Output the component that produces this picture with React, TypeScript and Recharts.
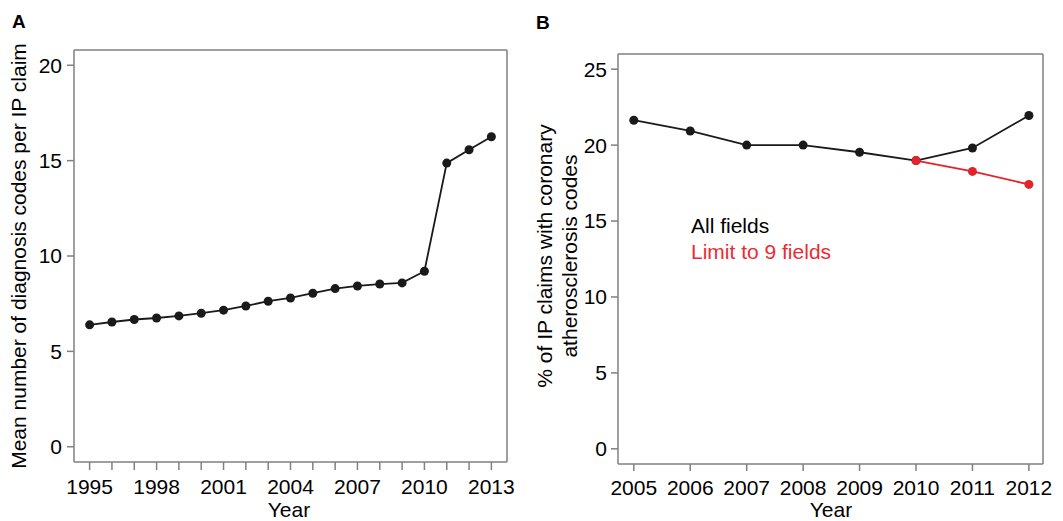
import { LineChart, Line, XAxis, YAxis, ReferenceLine } from 'recharts';

// Panel A: mean number of diagnosis codes per IP claim
const yearsA = [1995, 1996, 1997, 1998, 1999, 2000, 2001, 2002, 2003, 2004, 2005, 2006, 2007, 2008, 2009, 2010, 2011, 2012, 2013];
const meanCodes = [6.39, 6.54, 6.67, 6.75, 6.86, 7.0, 7.16, 7.38, 7.63, 7.8, 8.05, 8.29, 8.43, 8.53, 8.59, 9.2, 14.87, 15.57, 16.25];
const yTicksA = [0, 5, 10, 15, 20];

// Panel B: % of IP claims with coronary atherosclerosis codes
const yearsB = [2005, 2006, 2007, 2008, 2009, 2010, 2011, 2012];
const allFields = [21.64, 20.93, 20.0, 20.0, 19.53, 18.98, 19.81, 21.95];
const limit9 = [null, null, null, null, null, 18.98, 18.27, 17.41];
const yTicksB = [0, 5, 10, 15, 20, 25];

const dataA = yearsA.map((year, i) => ({ year, value: meanCodes[i] }));
const dataB = yearsB.map((year, i) => ({ year, all: allFields[i], limit: limit9[i] }));

// axis ranges (a little padding round the data, as in the original frame)
const xDomA: [number, number] = [1994.3, 2013.7];
const yDomA: [number, number] = [-0.8, 20.8];
const xDomB: [number, number] = [2004.72, 2012.25];
const yDomB: [number, number] = [-1, 26];

const AXIS = '#808080';
const INK = '#1a1a1a';
const RED = '#e4222b';
const FS = 21;
const tickStyle = { fill: '#000', fontSize: FS };

const abs = (left: number, top: number) => ({ position: 'absolute' as const, left, top });

function VLabel({ x, y, children }: { x: number; y: number; children: React.ReactNode }) {
    return (
        <div
            style={{
                ...abs(x, y),
                transform: 'translate(-50%, -50%) rotate(-90deg)',
                whiteSpace: 'nowrap',
                fontSize: FS,
                lineHeight: '25px',
                textAlign: 'center',
            }}
        >
            {children}
        </div>
    );
}

export default function App() {
    return (
        <div
            style={{
                position: 'absolute',
                left: 0,
                top: 0,
                width: 1063,
                height: 521,
                background: '#fff',
                fontFamily: '"Liberation Sans", Arial, sans-serif',
                color: '#000',
            }}
        >
            <div style={{ ...abs(0, 0) }}>
                <LineChart width={530} height={521} data={dataA} margin={{ top: 50, right: 23, left: 0, bottom: 0 }}>
                    <XAxis
                        dataKey="year"
                        type="number"
                        domain={xDomA}
                        allowDataOverflow
                        ticks={yearsA}
                        interval={0}
                        tickFormatter={(v: number) => ((v - 1995) % 3 === 0 ? String(v) : '')}
                        height={59}
                        tickSize={8}
                        tickMargin={9}
                        stroke={AXIS}
                        strokeWidth={1.5}
                        tick={tickStyle}
                    />
                    <YAxis
                        type="number"
                        domain={yDomA}
                        allowDataOverflow
                        ticks={yTicksA}
                        interval={0}
                        width={74}
                        tickSize={7}
                        tickMargin={5}
                        stroke={AXIS}
                        strokeWidth={1.5}
                        tick={tickStyle}
                    />
                    {/* close the frame on top and right */}
                    <ReferenceLine y={yDomA[1]} stroke={AXIS} strokeWidth={1.5} />
                    <ReferenceLine x={xDomA[1]} stroke={AXIS} strokeWidth={1.5} />
                    <Line
                        dataKey="value"
                        stroke={INK}
                        strokeWidth={1.8}
                        dot={{ r: 4.5, fill: INK, stroke: 'none' }}
                        isAnimationActive={false}
                    />
                </LineChart>
            </div>

            <div style={{ ...abs(530, 0) }}>
                <LineChart width={533} height={521} data={dataB} margin={{ top: 54, right: 20, left: 0, bottom: 0 }}>
                    <XAxis
                        dataKey="year"
                        type="number"
                        domain={xDomB}
                        allowDataOverflow
                        ticks={yearsB}
                        interval={0}
                        height={57}
                        tickSize={7}
                        tickMargin={9}
                        stroke={AXIS}
                        strokeWidth={1.5}
                        tick={tickStyle}
                    />
                    <YAxis
                        type="number"
                        domain={yDomB}
                        allowDataOverflow
                        ticks={yTicksB}
                        interval={0}
                        width={88}
                        tickSize={7}
                        tickMargin={4}
                        stroke={AXIS}
                        strokeWidth={1.5}
                        tick={tickStyle}
                    />
                    <ReferenceLine y={yDomB[1]} stroke={AXIS} strokeWidth={1.5} />
                    <ReferenceLine x={xDomB[1]} stroke={AXIS} strokeWidth={1.5} />
                    <Line
                        dataKey="all"
                        stroke={INK}
                        strokeWidth={1.8}
                        dot={{ r: 4.5, fill: INK, stroke: 'none' }}
                        isAnimationActive={false}
                    />
                    <Line
                        dataKey="limit"
                        stroke={RED}
                        strokeWidth={1.8}
                        dot={{ r: 4.5, fill: RED, stroke: 'none' }}
                        isAnimationActive={false}
                    />
                </LineChart>
            </div>

            {/* panel letters */}
            <div style={{ ...abs(12, 11), fontSize: 19, fontWeight: 'bold', lineHeight: '22px' }}>A</div>
            <div style={{ ...abs(536, 12), fontSize: 19, fontWeight: 'bold', lineHeight: '22px' }}>B</div>

            {/* axis titles */}
            <VLabel x={18} y={256}>Mean number of diagnosis codes per IP claim</VLabel>
            <VLabel x={557} y={256}>
                % of IP claims with coronary
                <br />
                atherosclerosis codes
            </VLabel>
            <div style={{ ...abs(289, 497), transform: 'translateX(-50%)', fontSize: FS, lineHeight: '25px' }}>Year</div>
            <div style={{ ...abs(831, 497), transform: 'translateX(-50%)', fontSize: FS, lineHeight: '25px' }}>Year</div>

            {/* legend */}
            <div style={{ ...abs(691, 213), fontSize: FS, lineHeight: '26px' }}>All fields</div>
            <div style={{ ...abs(691, 239), fontSize: FS, lineHeight: '26px', color: '#ee2a33' }}>Limit to 9 fields</div>
        </div>
    );
}
